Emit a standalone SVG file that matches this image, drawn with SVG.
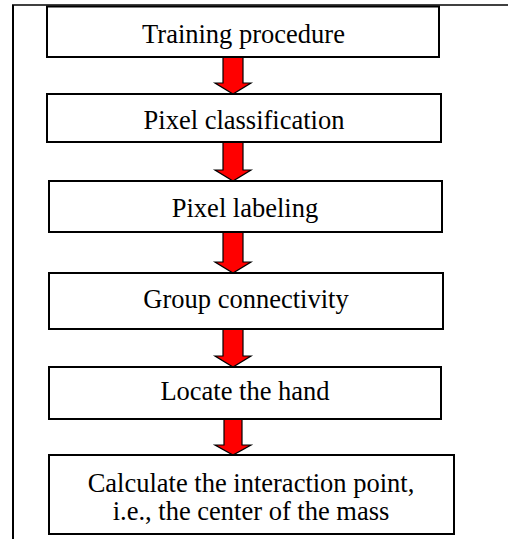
<svg xmlns="http://www.w3.org/2000/svg" width="508" height="539" viewBox="0 0 508 539">
<style>
.box{fill:#fff;stroke:#000;stroke-width:2}
.t{font-family:'Liberation Serif','Times New Roman','DejaVu Serif',serif;font-size:26.5px;fill:#000;text-anchor:middle}
.arr{fill:#f00;stroke:#000;stroke-width:1.2;stroke-linejoin:miter}
.frame{stroke:#000;fill:none}
</style>
<rect width="508" height="539" fill="#fff"/>
<g id="frame">
<line class="frame" x1="12" y1="5" x2="508" y2="5" stroke-width="1.5" stroke="#444"/>
<line class="frame" x1="13" y1="5" x2="13" y2="539" stroke-width="2"/>
</g>
<g id="connectors">
<path class="arr" d="M223,57 H243 V83 H251 L233,94 L215,83 H223 Z"/>
<path class="arr" d="M223,142 H243 V170 H251 L233,181 L215,170 H223 Z"/>
<path class="arr" d="M223,232 H243 V262 H251 L233,273 L215,262 H223 Z"/>
<path class="arr" d="M223,329 H243 V356 H251 L233,367 L215,356 H223 Z"/>
<path class="arr" d="M224,419 H242 V445 H251 L233,455 L215,445 H224 Z"/>
</g>
<g id="n1"><rect class="box" x="47" y="6.5" width="392" height="50.5"/><text class="t" x="243.5" y="43">Training procedure</text></g>
<g id="n2"><rect class="box" x="47" y="94" width="394" height="48"/><text class="t" x="244" y="129">Pixel classification</text></g>
<g id="n3"><rect class="box" x="49" y="181" width="393" height="51"/><text class="t" x="245" y="217">Pixel labeling</text></g>
<g id="n4"><rect class="box" x="49" y="273" width="394" height="56"/><text class="t" x="246" y="308">Group connectivity</text></g>
<g id="n5"><rect class="box" x="49" y="367" width="392" height="52"/><text class="t" x="245" y="400">Locate the hand</text></g>
<g id="n6"><rect class="box" x="49" y="455" width="405" height="79"/><text class="t" x="251" y="491.5">Calculate the interaction point,</text><text class="t" x="251" y="520">i.e., the center of the mass</text></g>
</svg>
